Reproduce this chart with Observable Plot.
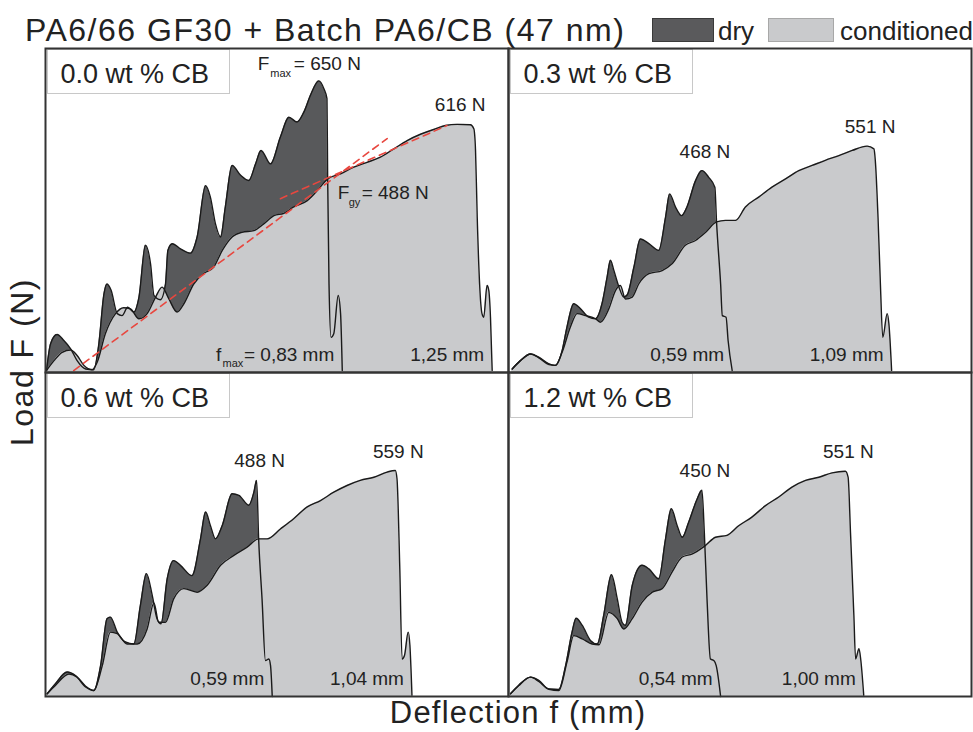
<!DOCTYPE html>
<html><head><meta charset="utf-8">
<script src="https://cdn.jsdelivr.net/npm/d3@7"></script>
<script src="https://cdn.jsdelivr.net/npm/@observablehq/plot@0.6"></script>
<style>
body{margin:0;background:#fff;}
#wrap{position:relative;width:973px;height:732px;font-family:"Liberation Sans",Arial,sans-serif;color:#222;}
#wrap svg{position:absolute;left:0;top:0;}
.t{position:absolute;white-space:nowrap;line-height:1;}
.sw{position:absolute;box-sizing:border-box;}
</style></head><body><div id="wrap">
<div class="t" id="title" style="left:25px;top:14px;font-size:32px;letter-spacing:1.5px;">PA6/66 GF30 + Batch PA6/CB (47 nm)</div>
<div class="sw" style="left:652px;top:18px;width:62px;height:24px;background:#5a5a5c;border:1px solid #3a3a3a;"></div>
<div class="t" style="left:718px;top:18px;font-size:26px;">dry</div>
<div class="sw" style="left:768px;top:18px;width:66px;height:24px;background:#c9cacc;border:1px solid #a8a8a8;"></div>
<div class="t" style="left:840px;top:18px;font-size:26px;">conditioned</div>
<div class="t" style="left:22px;top:362px;font-size:32px;letter-spacing:1.5px;transform:translate(-50%,-50%) rotate(-90deg);">Load F (N)</div>
<div class="t" style="left:518px;top:697px;font-size:31px;letter-spacing:1.2px;transform:translateX(-50%);">Deflection f (mm)</div>
</div>
<script>
const panelNames = ["0.0 wt % CB", "0.3 wt % CB", "0.6 wt % CB", "1.2 wt % CB"];
const dryPeakLabels = ["650 N", "468 N", "488 N", "450 N"];
const condPeakLabels = ["616 N", "551 N", "559 N", "551 N"];
const dryBreakLabels = ["0,83 mm", "0,59 mm", "0,59 mm", "0,54 mm"];
const condBreakLabels = ["1,25 mm", "1,09 mm", "1,04 mm", "1,00 mm"];
const fgyLabel = "488 N";
const fmaxMM = 0.83;

// deflection (mm), load (N)
const dry00 = [[0.003,5],[0.015,73],[0.034,96],[0.054,81],[0.074,60],[0.093,30],[0.118,9],[0.142,7],[0.157,73],[0.172,199],[0.181,224],[0.193,208],[0.211,149],[0.225,144],[0.242,165],[0.26,153],[0.275,191],[0.294,322],[0.309,275],[0.319,195],[0.338,184],[0.353,224],[0.36,309],[0.373,326],[0.397,313],[0.426,302],[0.446,343],[0.471,473],[0.485,444],[0.5,376],[0.515,343],[0.529,419],[0.549,524],[0.574,499],[0.598,486],[0.618,528],[0.634,562],[0.662,528],[0.691,596],[0.716,646],[0.74,634],[0.76,659],[0.781,705],[0.804,738],[0.819,718],[0.828,693],[0.83,495],[0.834,224],[0.84,89],[0.848,98],[0.861,195],[0.868,149],[0.873,5]];
const cond00 = [[0.003,5],[0.025,30],[0.049,51],[0.074,57],[0.093,43],[0.113,18],[0.137,7],[0.152,26],[0.176,98],[0.206,149],[0.23,164],[0.25,161],[0.275,136],[0.299,149],[0.324,191],[0.343,216],[0.363,186],[0.387,153],[0.407,174],[0.436,224],[0.466,251],[0.495,267],[0.52,309],[0.549,343],[0.578,355],[0.613,359],[0.642,376],[0.672,397],[0.701,403],[0.73,419],[0.77,435],[0.804,465],[0.83,490],[0.868,503],[0.907,520],[0.946,532],[0.985,545],[1.025,566],[1.064,587],[1.103,603],[1.142,615],[1.176,625],[1.211,628],[1.25,627],[1.26,617],[1.265,562],[1.27,393],[1.277,224],[1.284,149],[1.289,140],[1.299,220],[1.304,208],[1.309,140],[1.314,5]];
const dry03 = [[0.011,9],[0.035,30],[0.065,47],[0.089,39],[0.119,22],[0.138,18],[0.158,56],[0.172,115],[0.192,174],[0.212,161],[0.236,140],[0.256,136],[0.275,174],[0.29,241],[0.3,284],[0.31,258],[0.325,216],[0.339,191],[0.349,196],[0.369,267],[0.388,338],[0.413,326],[0.442,309],[0.462,393],[0.474,452],[0.491,419],[0.509,397],[0.525,419],[0.55,485],[0.569,511],[0.589,494],[0.607,469],[0.612,381],[0.624,224],[0.629,144],[0.64,140],[0.646,81],[0.658,5]];
const cond03 = [[0.011,9],[0.035,30],[0.065,47],[0.089,37],[0.119,20],[0.138,18],[0.158,52],[0.182,115],[0.202,149],[0.226,144],[0.256,136],[0.27,127],[0.295,161],[0.315,208],[0.329,220],[0.344,186],[0.364,191],[0.383,224],[0.413,250],[0.452,258],[0.481,275],[0.52,322],[0.55,334],[0.58,355],[0.612,381],[0.638,385],[0.668,385],[0.697,419],[0.736,444],[0.775,469],[0.815,490],[0.854,511],[0.893,524],[0.932,537],[0.972,549],[1.011,562],[1.055,573],[1.075,566],[1.079,537],[1.087,393],[1.094,224],[1.101,89],[1.114,149],[1.119,123],[1.127,5]];
const dry06 = [[0.005,7],[0.029,32],[0.064,62],[0.088,53],[0.118,24],[0.142,15],[0.162,78],[0.181,197],[0.191,201],[0.211,163],[0.235,138],[0.26,133],[0.279,230],[0.297,311],[0.314,256],[0.328,197],[0.34,184],[0.358,298],[0.377,344],[0.397,332],[0.431,306],[0.456,399],[0.471,467],[0.485,433],[0.5,399],[0.52,433],[0.549,513],[0.569,509],[0.598,484],[0.613,517],[0.621,547],[0.627,399],[0.637,247],[0.647,91],[0.657,95],[0.662,78],[0.667,0]];
const cond06 = [[0.005,7],[0.029,28],[0.069,57],[0.093,49],[0.118,26],[0.142,15],[0.167,78],[0.191,163],[0.211,159],[0.24,133],[0.27,133],[0.299,171],[0.319,237],[0.333,188],[0.353,188],[0.377,247],[0.407,273],[0.446,264],[0.475,281],[0.515,332],[0.554,357],[0.593,378],[0.627,399],[0.652,399],[0.691,424],[0.73,450],[0.77,480],[0.809,496],[0.848,517],[0.887,534],[0.926,547],[0.966,555],[1.005,568],[1.029,572],[1.034,551],[1.042,332],[1.049,95],[1.056,104],[1.067,163],[1.072,129],[1.078,3]];
const dry12 = [[0.006,7],[0.03,28],[0.065,49],[0.089,41],[0.119,19],[0.148,18],[0.168,78],[0.187,163],[0.199,198],[0.217,180],[0.241,142],[0.261,133],[0.28,205],[0.303,308],[0.32,247],[0.334,188],[0.344,180],[0.364,281],[0.393,332],[0.413,323],[0.442,298],[0.462,399],[0.479,475],[0.496,433],[0.511,403],[0.53,441],[0.555,500],[0.569,522],[0.576,416],[0.584,247],[0.594,95],[0.604,91],[0.611,78],[0.624,0]];
const cond12 = [[0.006,7],[0.03,28],[0.065,49],[0.089,38],[0.119,18],[0.148,15],[0.172,87],[0.192,154],[0.217,146],[0.246,133],[0.266,131],[0.295,213],[0.32,197],[0.339,171],[0.364,197],[0.393,239],[0.423,264],[0.452,273],[0.481,315],[0.511,353],[0.541,361],[0.579,382],[0.609,403],[0.643,408],[0.677,432],[0.716,454],[0.756,483],[0.795,505],[0.834,530],[0.874,547],[0.913,555],[0.952,566],[0.991,570],[0.999,555],[1.006,416],[1.016,205],[1.021,95],[1.031,121],[1.036,95],[1.045,3]];
const tangentA = [[0.083,5],[1.005,592]];
const tangentB = [[0.691,440],[1.181,625]];

const dryCurves = [dry00, dry03, dry06, dry12];
const condCurves = [cond00, cond03, cond06, cond12];
const cell = i => ({col: i % 2, row: Math.floor(i / 2)});

const dryRows = [], condRows = [];
dryCurves.forEach((c, i) => c.forEach(([x, y]) => dryRows.push({...cell(i), x, y})));
condCurves.forEach((c, i) => c.forEach(([x, y]) => condRows.push({...cell(i), x, y})));
const tanRows = [];
[tangentA, tangentB].forEach((t, k) => t.forEach(([x, y]) => tanRows.push({...cell(0), id: k, x, y})));

const panelRows = panelNames.map((name, i) => ({...cell(i), name}));
const peakRows = [];
panelNames.forEach((_, i) => {
  const cp = d3.greatest(condCurves[i], d => d[1]);
  peakRows.push({...cell(i), x: cp[0], y: cp[1], label: condPeakLabels[i]});
  if (i > 0) {
    const dp = d3.greatest(dryCurves[i], d => d[1]);
    peakRows.push({...cell(i), x: dp[0], y: dp[1], label: dryPeakLabels[i]});
  }
});
const dp0 = d3.greatest(dry00, d => d[1]);
const fmaxRow = [{...cell(0), x: dp0[0], y: dp0[1]}];
const breakRows = [];
panelNames.forEach((_, i) => {
  const dl = dryCurves[i][dryCurves[i].length - 1];
  const cl = condCurves[i][condCurves[i].length - 1];
  breakRows.push({...cell(i), x: dl[0], y: 0, label: (i === 0 ? "= " : "") + dryBreakLabels[i]});
  breakRows.push({...cell(i), x: cl[0], y: 0, label: condBreakLabels[i]});
});
const d0last = dry00[dry00.length - 1];
const fmaxBreakRow = [{...cell(0), x: d0last[0], y: 0}];
const fgyPt = cond00.find(d => d[0] >= fmaxMM);
const fgyRow = [{...cell(0), x: fgyPt[0], y: fgyPt[1]}];

const F = {fx: "col", fy: "row"};
const txt = {fill: "#222", fontSize: 19};
const sub = {fill: "#222", fontSize: 11};

const chart = Plot.plot({
  width: 973, height: 732,
  marginLeft: 45, marginRight: 2, marginTop: 48, marginBottom: 36,
  x: {domain: [0, 1.362], axis: null},
  y: {domain: [0, 820], axis: null},
  fx: {domain: [0, 1], padding: 0, axis: null},
  fy: {domain: [0, 1], padding: 0, axis: null},
  style: {background: "transparent", fontFamily: "'Liberation Sans', Arial, sans-serif"},
  marks: [
    Plot.areaY(dryRows, {...F, x: "x", y: "y", fill: "#58595b", curve: "monotone-x"}),
    Plot.areaY(condRows, {...F, x: "x", y: "y", fill: "#c9cacc", curve: "monotone-x"}),
    Plot.line(dryRows, {...F, x: "x", y: "y", stroke: "#1a1a1a", strokeWidth: 1.4, curve: "monotone-x"}),
    Plot.line(condRows, {...F, x: "x", y: "y", stroke: "#1a1a1a", strokeWidth: 1.4, curve: "monotone-x"}),
    Plot.line(tanRows, {...F, x: "x", y: "y", z: "id", stroke: "#e8473f", strokeWidth: 1.6, strokeDasharray: "7,5"}),
    Plot.frame({fill: "white", stroke: "#c8c8c8", strokeWidth: 1, insetLeft: 2, insetTop: 1, insetRight: 279, insetBottom: 279}),
    Plot.text(panelRows, {...F, text: "name", frameAnchor: "top-left", dx: 15, dy: 15, fontSize: 27, fill: "#222"}),
    Plot.text(peakRows, {...F, x: "x", y: "y", text: "label", dx: 3, dy: -19, ...txt}),
    Plot.text(fmaxRow, {...F, x: "x", y: "y", text: () => "F", textAnchor: "start", dx: -61, dy: -16.5, ...txt}),
    Plot.text(fmaxRow, {...F, x: "x", y: "y", text: () => "max", textAnchor: "start", dx: -48.5, dy: -7.5, ...sub}),
    Plot.text(fmaxRow, {...F, x: "x", y: "y", text: () => "= " + dryPeakLabels[0], textAnchor: "start", dx: -25, dy: -16.5, ...txt}),
    Plot.text(fgyRow, {...F, x: "x", y: "y", text: () => "F", textAnchor: "start", dx: 10, dy: 14, ...txt}),
    Plot.text(fgyRow, {...F, x: "x", y: "y", text: () => "gy", textAnchor: "start", dx: 21, dy: 24, ...sub}),
    Plot.text(fgyRow, {...F, x: "x", y: "y", text: () => "= " + fgyLabel, textAnchor: "start", dx: 34, dy: 14, ...txt}),
    Plot.text(breakRows, {...F, x: "x", y: "y", text: "label", textAnchor: "end", dx: -8, dy: -18, ...txt}),
    Plot.text(fmaxBreakRow, {...F, x: "x", y: "y", text: () => "max", textAnchor: "end", dx: -99, dy: -9, ...sub}),
    Plot.text(fmaxBreakRow, {...F, x: "x", y: "y", text: () => "f", textAnchor: "end", dx: -121, dy: -18, ...txt}),
    Plot.frame({stroke: "#333", strokeWidth: 2})
  ]
});
document.getElementById("wrap").prepend(chart);
</script>
</body></html>
